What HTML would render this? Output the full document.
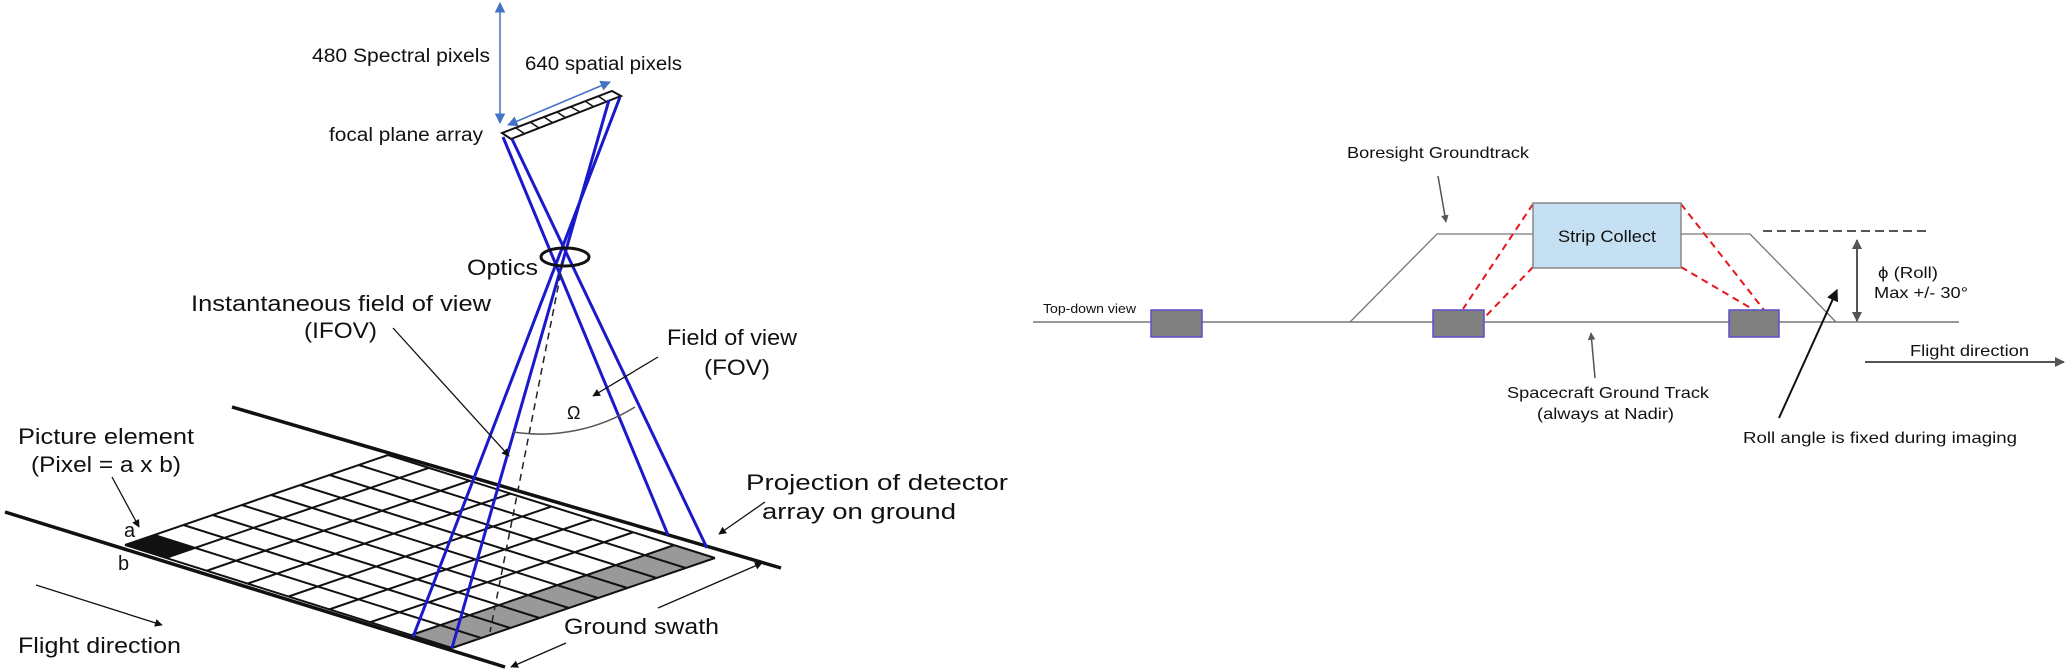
<!DOCTYPE html>
<html><head><meta charset="utf-8"><style>
html,body{margin:0;padding:0;background:#fff;}
svg{display:block;}
text{font-family:"Liberation Sans",Arial,sans-serif;fill:#111;}
</style></head><body>
<svg width="2067" height="670" viewBox="0 0 2067 670" xmlns="http://www.w3.org/2000/svg">
<defs>
<marker id="bl" viewBox="0 0 10 10" refX="9" refY="5" markerWidth="7" markerHeight="7" orient="auto-start-reverse"><path d="M0,0L10,5L0,10z" fill="#4472c4"/></marker>
<marker id="blk" viewBox="0 0 10 10" refX="9" refY="5" markerWidth="6" markerHeight="6" orient="auto-start-reverse"><path d="M0,0L10,5L0,10z" fill="#111"/></marker>
<marker id="gr" viewBox="0 0 10 10" refX="9" refY="5" markerWidth="5" markerHeight="5" orient="auto-start-reverse"><path d="M0,0L10,5L0,10z" fill="#555"/></marker>
</defs>

<!-- LEFT DIAGRAM -->
<line x1="500" y1="3" x2="500" y2="123" stroke="#4472c4" stroke-width="1.5" marker-start="url(#bl)" marker-end="url(#bl)"/>
<line x1="508" y1="125" x2="610" y2="82" stroke="#4472c4" stroke-width="1.5" marker-start="url(#bl)" marker-end="url(#bl)"/>
<text x="312" y="62" font-size="19" textLength="178" lengthAdjust="spacingAndGlyphs">480  Spectral pixels</text>
<text x="525" y="70" font-size="19" textLength="157" lengthAdjust="spacingAndGlyphs">640 spatial pixels</text>
<text x="329" y="141" font-size="19" textLength="154" lengthAdjust="spacingAndGlyphs">focal plane array</text>

<polygon points="502,133 612,91 621,96 511,139" fill="#fff" stroke="#111" stroke-width="2"/>
<g stroke="#111" stroke-width="1.5">
<line x1="516" y1="128" x2="525" y2="134"/><line x1="530" y1="122" x2="539" y2="128"/>
<line x1="544" y1="117" x2="553" y2="123"/><line x1="557" y1="112" x2="566" y2="118"/>
<line x1="571" y1="107" x2="580" y2="112"/><line x1="585" y1="101" x2="594" y2="107"/>
<line x1="598" y1="96" x2="607" y2="102"/>
</g>

<!-- ground plane -->
<line x1="232" y1="407" x2="781" y2="568" stroke="#111" stroke-width="3.5"/>
<line x1="5" y1="512" x2="505" y2="667" stroke="#111" stroke-width="3.5"/>
<g transform="matrix(40.875,12.875,29.22,-10,125,545)">
<rect x="0" y="0" width="1" height="1" fill="#111"/>
<rect x="7" y="0" width="1" height="9" fill="#999"/>
<path vector-effect="non-scaling-stroke" stroke="#111" stroke-width="2" fill="none" d="M0,0V9M1,0V9M2,0V9M3,0V9M4,0V9M5,0V9M6,0V9M7,0V9M8,0V9M0,0H8M0,1H8M0,2H8M0,3H8M0,4H8M0,5H8M0,6H8M0,7H8M0,8H8M0,9H8"/>
</g>

<g stroke="#1a1acc" stroke-width="3" fill="none">
<line x1="503" y1="137" x2="668" y2="535"/>
<line x1="512" y1="139" x2="707" y2="548"/>
<line x1="620" y1="97" x2="413" y2="637"/>
<line x1="609" y1="100" x2="452" y2="648"/>
</g>
<line x1="563" y1="262" x2="490" y2="632" stroke="#222" stroke-width="1.5" stroke-dasharray="7,5"/>
<ellipse cx="565" cy="257" rx="24" ry="9" fill="none" stroke="#111" stroke-width="3"/>
<text x="467" y="275" font-size="22" textLength="71" lengthAdjust="spacingAndGlyphs">Optics</text>

<path d="M513,432 A180,180 0 0 0 635,407" fill="none" stroke="#555" stroke-width="1.5"/>
<text x="567" y="419" font-size="18" font-family="Liberation Serif">Ω</text>

<text x="191" y="311" font-size="22" textLength="300" lengthAdjust="spacingAndGlyphs">Instantaneous field of view</text>
<text x="304" y="338" font-size="22" textLength="73" lengthAdjust="spacingAndGlyphs">(IFOV)</text>
<line x1="393" y1="328" x2="509" y2="456" stroke="#111" stroke-width="1.3" marker-end="url(#blk)"/>

<text x="667" y="345" font-size="22" textLength="130" lengthAdjust="spacingAndGlyphs">Field of view</text>
<text x="704" y="375" font-size="22" textLength="66" lengthAdjust="spacingAndGlyphs">(FOV)</text>
<line x1="658" y1="357" x2="593" y2="396" stroke="#111" stroke-width="1.3" marker-end="url(#blk)"/>

<text x="18" y="444" font-size="22" textLength="176" lengthAdjust="spacingAndGlyphs">Picture element</text>
<text x="31" y="472" font-size="22" textLength="150" lengthAdjust="spacingAndGlyphs">(Pixel = a x b)</text>
<line x1="112" y1="477" x2="139" y2="527" stroke="#111" stroke-width="1.3" marker-end="url(#blk)"/>
<text x="124" y="537" font-size="20">a</text>
<text x="118" y="570" font-size="20">b</text>

<line x1="36" y1="585" x2="162" y2="625" stroke="#111" stroke-width="1.3" marker-end="url(#blk)"/>
<text x="18" y="653" font-size="22" textLength="163" lengthAdjust="spacingAndGlyphs">Flight direction</text>

<text x="746" y="490" font-size="22" textLength="262" lengthAdjust="spacingAndGlyphs">Projection of detector</text>
<text x="762" y="519" font-size="22" textLength="194" lengthAdjust="spacingAndGlyphs">array on ground</text>
<line x1="765" y1="502" x2="719" y2="534" stroke="#111" stroke-width="1.3" marker-end="url(#blk)"/>

<text x="564" y="634" font-size="22" textLength="155" lengthAdjust="spacingAndGlyphs">Ground swath</text>
<line x1="658" y1="608" x2="762" y2="563" stroke="#111" stroke-width="1.3" marker-end="url(#blk)"/>
<line x1="566" y1="643" x2="511" y2="667" stroke="#111" stroke-width="1.3" marker-end="url(#blk)"/>

<!-- RIGHT DIAGRAM -->
<line x1="1033" y1="322" x2="1959" y2="322" stroke="#777" stroke-width="1.5"/>
<polyline points="1350,322 1437,234 1533,234" fill="none" stroke="#777" stroke-width="1.3"/>
<polyline points="1681,234 1750,234 1836,322" fill="none" stroke="#777" stroke-width="1.3"/>
<line x1="1763" y1="231" x2="1931" y2="231" stroke="#555" stroke-width="2" stroke-dasharray="9,5"/>

<g stroke="#e8141a" stroke-width="2" stroke-dasharray="7,5" fill="none">
<line x1="1533" y1="204" x2="1463" y2="309"/>
<line x1="1533" y1="267" x2="1486" y2="316"/>
<line x1="1681" y1="204" x2="1764" y2="310"/>
<line x1="1681" y1="267" x2="1754" y2="310"/>
</g>
<rect x="1533" y="203" width="148" height="65" fill="#c4e0f2" stroke="#888" stroke-width="1.5"/>
<text x="1558" y="242" font-size="17" textLength="98" lengthAdjust="spacingAndGlyphs">Strip Collect</text>

<g fill="#808080" stroke="#5a4fc8" stroke-width="1.5">
<rect x="1151" y="310" width="51" height="27"/>
<rect x="1433" y="310" width="51" height="27"/>
<rect x="1729" y="310" width="50" height="27"/>
</g>

<text x="1043" y="313" font-size="13" textLength="93" lengthAdjust="spacingAndGlyphs">Top-down view</text>
<text x="1347" y="158" font-size="16" textLength="182" lengthAdjust="spacingAndGlyphs">Boresight Groundtrack</text>
<line x1="1438" y1="176" x2="1446" y2="222" stroke="#555" stroke-width="1.5" marker-end="url(#gr)"/>

<text x="1507" y="398" font-size="16" textLength="202" lengthAdjust="spacingAndGlyphs">Spacecraft Ground Track</text>
<text x="1537" y="419" font-size="16" textLength="137" lengthAdjust="spacingAndGlyphs">(always at Nadir)</text>
<line x1="1595" y1="378" x2="1591" y2="333" stroke="#555" stroke-width="1.5" marker-end="url(#gr)"/>

<line x1="1857" y1="240" x2="1857" y2="321" stroke="#555" stroke-width="2" marker-start="url(#gr)" marker-end="url(#gr)"/>
<text x="1878" y="278" font-size="16" textLength="60" lengthAdjust="spacingAndGlyphs">ϕ (Roll)</text>
<text x="1874" y="298" font-size="16" textLength="94" lengthAdjust="spacingAndGlyphs">Max +/- 30°</text>

<text x="1910" y="356" font-size="16" textLength="119" lengthAdjust="spacingAndGlyphs">Flight direction</text>
<line x1="1865" y1="362" x2="2064" y2="362" stroke="#555" stroke-width="2" marker-end="url(#gr)"/>

<line x1="1779" y1="418" x2="1837" y2="290" stroke="#111" stroke-width="2" marker-end="url(#blk)"/>
<text x="1743" y="443" font-size="16" textLength="274" lengthAdjust="spacingAndGlyphs">Roll angle is fixed during imaging</text>
</svg>
</body></html>
